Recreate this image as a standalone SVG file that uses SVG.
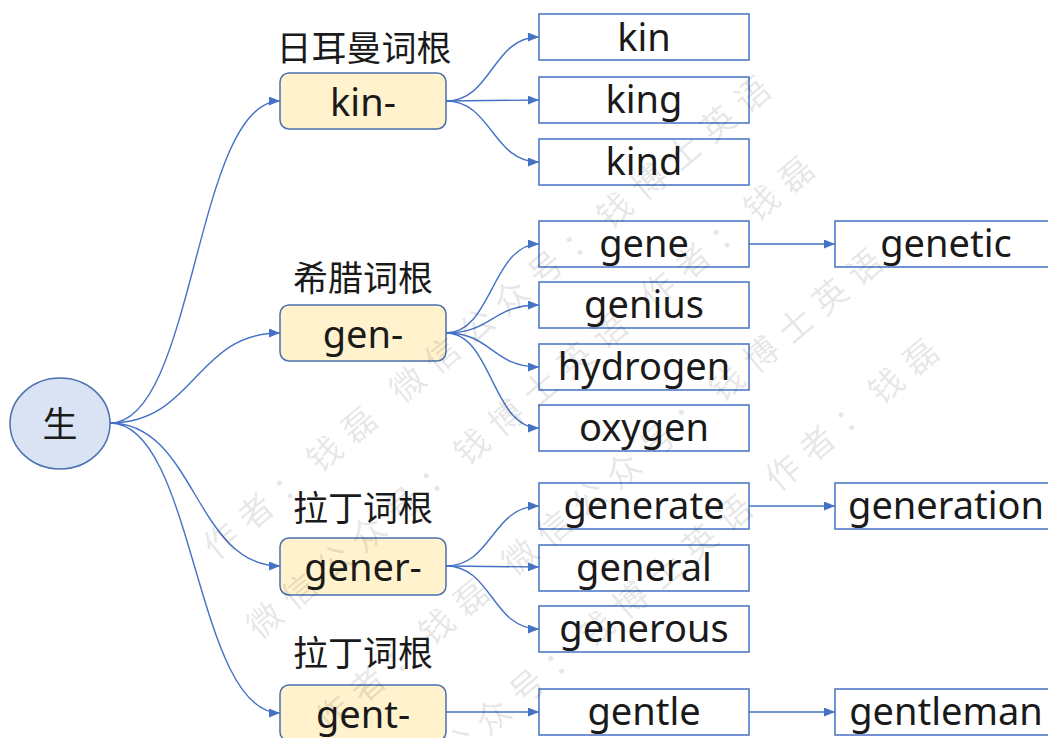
<svg xmlns="http://www.w3.org/2000/svg" width="1048" height="738" viewBox="0 0 1048 738">
<style>
.word{fill:#ffffff;stroke:#4472c4;stroke-width:1.5}
.root{fill:#fff2cc;stroke:#4a6fae;stroke-width:1.5}
.wt{font-family:"Noto Sans","Liberation Sans",sans-serif;font-size:38px;fill:#1a1a1a;text-anchor:middle}
.cjk{font-family:"Noto Sans CJK SC","Noto Sans",sans-serif;font-size:35px;fill:#1a1a1a;text-anchor:middle}
.conn path{fill:none;stroke:#4472c4;stroke-width:1.4;marker-end:url(#arr)}
.wm{font-family:"Noto Sans CJK SC","Noto Sans",sans-serif;font-size:34px;letter-spacing:11px;fill:#000000;fill-opacity:0.11}
</style>
<defs>
<marker id="arr" viewBox="0 0 11 9" refX="11" refY="4.5" markerWidth="11" markerHeight="9" markerUnits="userSpaceOnUse" orient="auto">
<path d="M0,0 L11,4.5 L0,9 z" fill="#4472c4"/>
</marker>
</defs>
<rect width="1048" height="738" fill="#ffffff"/>
<g id="connectors" class="conn">
<path d="M110,423 C195,423 195,101 280,101"/>
<path d="M110,423 C195,423 195,333 280,333"/>
<path d="M110,423 C195,423 195,566 280,566"/>
<path d="M110,423 C195,423 195,713 280,713"/>
<path d="M446,101 C492,101 492,37 539,37"/>
<path d="M446,101 L539,100"/>
<path d="M446,101 C492,101 492,162 539,162"/>
<path d="M446,333 C492,333 492,244 539,244"/>
<path d="M446,333 C492,333 492,305 539,305"/>
<path d="M446,333 C492,333 492,367 539,367"/>
<path d="M446,333 C492,333 492,428 539,428"/>
<path d="M446,566 C492,566 492,506 539,506"/>
<path d="M446,566 L539,567"/>
<path d="M446,566 C492,566 492,629 539,629"/>
<path d="M446,712 L539,712"/>
<path d="M749,244 L835,244"/>
<path d="M749,506 L835,506"/>
<path d="M749,712 L835,712"/>
</g>
<g id="node-sheng">
<ellipse cx="60" cy="423.5" rx="50" ry="45.5" fill="#dae3f3" stroke="#4a6fae" stroke-width="1.5"/>
<text class="cjk" x="60" y="437">生</text>
</g>
<g id="node-kin-root">
<text class="cjk" x="364" y="61">日耳曼词根</text>
<rect class="root" x="280" y="73" width="166" height="56" rx="9"/>
<text class="wt" x="363" y="116">kin-</text>
</g>
<g id="node-gen-root">
<text class="cjk" x="363" y="291">希腊词根</text>
<rect class="root" x="280" y="305" width="166" height="56" rx="9"/>
<text class="wt" x="363" y="348">gen-</text>
</g>
<g id="node-gener-root">
<text class="cjk" x="363" y="521">拉丁词根</text>
<rect class="root" x="280" y="538" width="166" height="57" rx="9"/>
<text class="wt" x="363" y="581">gener-</text>
</g>
<g id="node-gent-root">
<text class="cjk" x="363" y="666">拉丁词根</text>
<rect class="root" x="280" y="685" width="166" height="56" rx="9"/>
<text class="wt" x="363" y="728">gent-</text>
</g>
<g id="node-kin"><rect class="word" x="539" y="14" width="210" height="46"/><text class="wt" x="644" y="51">kin</text></g>
<g id="node-king"><rect class="word" x="539" y="77" width="210" height="46"/><text class="wt" x="644" y="113">king</text></g>
<g id="node-kind"><rect class="word" x="539" y="139" width="210" height="46"/><text class="wt" x="644" y="175">kind</text></g>
<g id="node-gene"><rect class="word" x="539" y="221" width="210" height="46"/><text class="wt" x="644" y="257">gene</text></g>
<g id="node-genius"><rect class="word" x="539" y="282" width="210" height="46"/><text class="wt" x="644" y="318">genius</text></g>
<g id="node-hydrogen"><rect class="word" x="539" y="344" width="210" height="46"/><text class="wt" x="644" y="380">hydrogen</text></g>
<g id="node-oxygen"><rect class="word" x="539" y="405" width="210" height="46"/><text class="wt" x="644" y="441">oxygen</text></g>
<g id="node-generate"><rect class="word" x="539" y="483" width="210" height="46"/><text class="wt" x="644" y="519">generate</text></g>
<g id="node-general"><rect class="word" x="539" y="545" width="210" height="46"/><text class="wt" x="644" y="581">general</text></g>
<g id="node-generous"><rect class="word" x="539" y="606" width="210" height="46"/><text class="wt" x="644" y="642">generous</text></g>
<g id="node-gentle"><rect class="word" x="539" y="689" width="210" height="46"/><text class="wt" x="644" y="725">gentle</text></g>
<g id="node-genetic"><rect class="word" x="835" y="221" width="222" height="46"/><text class="wt" x="946" y="257">genetic</text></g>
<g id="node-generation"><rect class="word" x="835" y="483" width="222" height="46"/><text class="wt" x="946" y="519">generation</text></g>
<g id="node-gentleman"><rect class="word" x="835" y="689" width="222" height="46"/><text class="wt" x="946" y="725">gentleman</text></g>
<g id="watermark" class="wm">
<text transform="translate(216,561) rotate(-40)">作者：钱磊 微信公众号：钱博士英语</text>
<text transform="translate(259.6,640.5) rotate(-40)">微信公众号：钱博士英语 作者：钱磊</text>
<text transform="translate(328,733.7) rotate(-40)">作者：钱磊 微信公众号：钱博士英语</text>
<text transform="translate(453.2,765.2) rotate(-40)">公众号：钱博士英语 作者：钱磊</text>
</g>
</svg>
